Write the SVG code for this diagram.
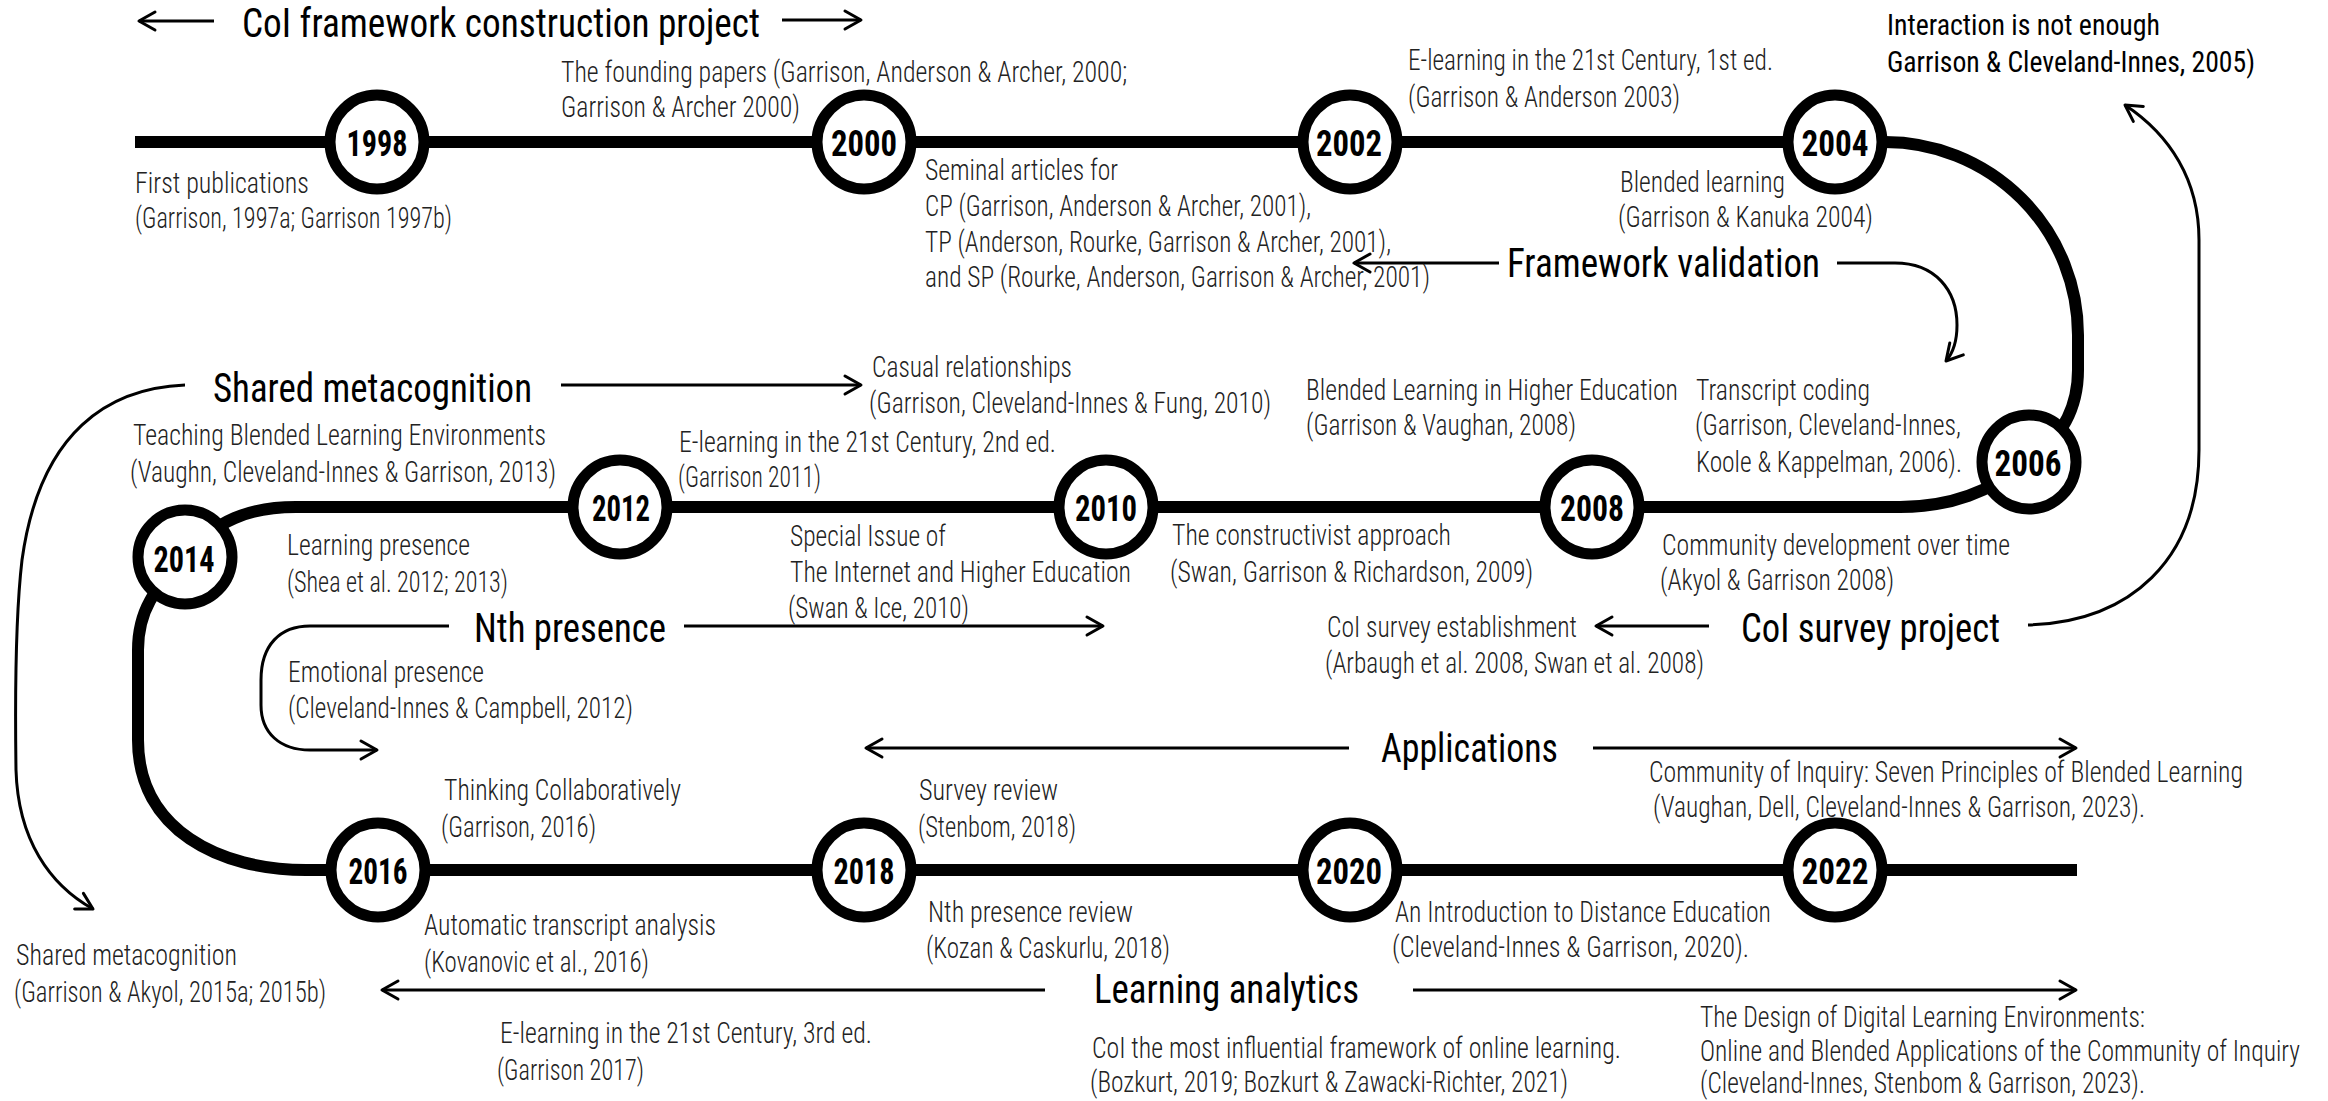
<svg xmlns="http://www.w3.org/2000/svg" width="2328" height="1101" viewBox="0 0 2328 1101">
  <defs>
    <style>
      .track { fill: none; stroke: #000; stroke-width: 12; }
      .conn { fill: none; stroke: #000; stroke-width: 3; }
      .yr circle { fill: #fff; stroke: #000; stroke-width: 11; }
      .yr text { font-family: "Roboto Condensed", "Roboto", "Liberation Sans", sans-serif; font-weight: 700; font-size: 37px; text-anchor: middle; fill: #000; }
      .note text { font-family: "Roboto Condensed", "Roboto", "Liberation Sans", sans-serif; font-weight: 300; font-size: 29px; fill: #222; }
      .note.strong text { font-weight: 400; fill: #000; }
      .topic text { font-family: "Roboto Condensed", "Roboto", "Liberation Sans", sans-serif; font-weight: 400; font-size: 40px; fill: #000; }
    </style>
    <marker id="arr" viewBox="-20 -12 24 24" refX="0" refY="0" markerWidth="24" markerHeight="24" markerUnits="userSpaceOnUse" orient="auto">
      <path d="M-16,-9 L0,0 L-16,9" fill="none" stroke="#000" stroke-width="3" stroke-linecap="round" stroke-linejoin="round"/>
    </marker>
  </defs>

  <rect width="2328" height="1101" fill="#fff"/>

  <!-- serpentine timeline track -->
  <g id="track">
    <path class="track" d="M135,142 H1885 A193,193 0 0 1 2078,335 V370 C2078,410 2060,440 2028,462 C1990,492 1950,507 1900,507 H296 C250,507 215,520 185,557 C160,585 138,605 138,650 V740 C138,830 220,870 306,870 H2077"/>
  </g>

  <!-- connectors -->
  <g id="connectors">
    <path class="conn" d="M214,21 H139" marker-end="url(#arr)"/>
    <path class="conn" d="M782,20 H861" marker-end="url(#arr)"/>
    <path class="conn" d="M1499,263 H1354" marker-end="url(#arr)"/>
    <path class="conn" d="M1837,263 H1895 C1935,263 1957,290 1957,325 C1957,343 1953,353 1946,361" marker-end="url(#arr)"/>
    <path class="conn" d="M2028,625 C2130,622 2199,560 2199,450 L2199,240 C2199,180 2170,135 2125,105" marker-end="url(#arr)"/>
    <path class="conn" d="M561,385 H861" marker-end="url(#arr)"/>
    <path class="conn" d="M185,385 C110,388 40,430 22,560 C15,620 15,700 16,770 C18,840 50,885 93,909" marker-end="url(#arr)"/>
    <path class="conn" d="M684,626 H1103" marker-end="url(#arr)"/>
    <path class="conn" d="M449,626 H310 C280,626 261,645 261,680 V705 C261,733 280,750 310,750 H377" marker-end="url(#arr)"/>
    <path class="conn" d="M1709,626 H1596" marker-end="url(#arr)"/>
    <path class="conn" d="M1349,748 H866" marker-end="url(#arr)"/>
    <path class="conn" d="M1593,748 H2076" marker-end="url(#arr)"/>
    <path class="conn" d="M1045,990 H382" marker-end="url(#arr)"/>
    <path class="conn" d="M1413,990 H2076" marker-end="url(#arr)"/>
  </g>

  <!-- year stations -->
  <g id="y1998" class="yr"><circle cx="377" cy="142" r="47"/><text x="377" y="156" textLength="61" lengthAdjust="spacingAndGlyphs">1998</text></g>
  <g id="y2000" class="yr"><circle cx="864" cy="142" r="47"/><text x="864" y="156" textLength="66" lengthAdjust="spacingAndGlyphs">2000</text></g>
  <g id="y2002" class="yr"><circle cx="1350" cy="142" r="47"/><text x="1349" y="156" textLength="66" lengthAdjust="spacingAndGlyphs">2002</text></g>
  <g id="y2004" class="yr"><circle cx="1835" cy="142" r="47"/><text x="1835" y="156" textLength="67" lengthAdjust="spacingAndGlyphs">2004</text></g>
  <g id="y2006" class="yr"><circle cx="2029" cy="462" r="47"/><text x="2028" y="476" textLength="67" lengthAdjust="spacingAndGlyphs">2006</text></g>
  <g id="y2008" class="yr"><circle cx="1592" cy="507" r="47"/><text x="1592" y="521" textLength="64" lengthAdjust="spacingAndGlyphs">2008</text></g>
  <g id="y2010" class="yr"><circle cx="1106" cy="507" r="47"/><text x="1106" y="521" textLength="62" lengthAdjust="spacingAndGlyphs">2010</text></g>
  <g id="y2012" class="yr"><circle cx="620" cy="507" r="47"/><text x="621" y="521" textLength="58" lengthAdjust="spacingAndGlyphs">2012</text></g>
  <g id="y2014" class="yr"><circle cx="185" cy="557" r="47"/><text x="184" y="572" textLength="61" lengthAdjust="spacingAndGlyphs">2014</text></g>
  <g id="y2016" class="yr"><circle cx="378" cy="870" r="47"/><text x="378" y="884" textLength="59" lengthAdjust="spacingAndGlyphs">2016</text></g>
  <g id="y2018" class="yr"><circle cx="864" cy="870" r="47"/><text x="864" y="884" textLength="61" lengthAdjust="spacingAndGlyphs">2018</text></g>
  <g id="y2020" class="yr"><circle cx="1350" cy="870" r="47"/><text x="1349" y="884" textLength="66" lengthAdjust="spacingAndGlyphs">2020</text></g>
  <g id="y2022" class="yr"><circle cx="1835" cy="870" r="47"/><text x="1835" y="884" textLength="67" lengthAdjust="spacingAndGlyphs">2022</text></g>

  <!-- strand headings -->
  <g id="t-construction" class="topic"><text x="242" y="37" textLength="518" lengthAdjust="spacingAndGlyphs">CoI framework construction project</text></g>
  <g id="t-validation" class="topic"><text x="1507" y="277" textLength="313" lengthAdjust="spacingAndGlyphs">Framework validation</text></g>
  <g id="t-metacognition" class="topic"><text x="213" y="402" textLength="319" lengthAdjust="spacingAndGlyphs">Shared metacognition</text></g>
  <g id="t-nth" class="topic"><text x="474" y="642" textLength="192" lengthAdjust="spacingAndGlyphs">Nth presence</text></g>
  <g id="t-survey" class="topic"><text x="1741" y="642" textLength="259" lengthAdjust="spacingAndGlyphs">CoI survey project</text></g>
  <g id="t-applications" class="topic"><text x="1381" y="762" textLength="177" lengthAdjust="spacingAndGlyphs">Applications</text></g>
  <g id="t-analytics" class="topic"><text x="1094" y="1003" textLength="265" lengthAdjust="spacingAndGlyphs">Learning analytics</text></g>

  <!-- publications -->
  <g id="n-first" class="note">
    <text x="135" y="193" textLength="174" lengthAdjust="spacingAndGlyphs">First publications</text>
    <text x="135" y="228" textLength="317" lengthAdjust="spacingAndGlyphs">(Garrison, 1997a; Garrison 1997b)</text>
  </g>
  <g id="n-founding" class="note">
    <text x="561" y="82" textLength="566" lengthAdjust="spacingAndGlyphs">The founding papers (Garrison, Anderson &amp; Archer, 2000;</text>
    <text x="561" y="117" textLength="239" lengthAdjust="spacingAndGlyphs">Garrison &amp; Archer 2000)</text>
  </g>
  <g id="n-seminal" class="note">
    <text x="925" y="180" textLength="193" lengthAdjust="spacingAndGlyphs">Seminal articles for</text>
    <text x="925" y="216" textLength="386" lengthAdjust="spacingAndGlyphs">CP (Garrison, Anderson &amp; Archer, 2001),</text>
    <text x="925" y="252" textLength="466" lengthAdjust="spacingAndGlyphs">TP (Anderson, Rourke, Garrison &amp; Archer, 2001),</text>
    <text x="925" y="287" textLength="505" lengthAdjust="spacingAndGlyphs">and SP (Rourke, Anderson, Garrison &amp; Archer, 2001)</text>
  </g>
  <g id="n-elearning1" class="note">
    <text x="1408" y="70" textLength="365" lengthAdjust="spacingAndGlyphs">E-learning in the 21st Century, 1st ed.</text>
    <text x="1408" y="107" textLength="272" lengthAdjust="spacingAndGlyphs">(Garrison &amp; Anderson 2003)</text>
  </g>
  <g id="n-interaction" class="note strong">
    <text x="1887" y="35" textLength="273" lengthAdjust="spacingAndGlyphs">Interaction is not enough</text>
    <text x="1887" y="72" textLength="368" lengthAdjust="spacingAndGlyphs">Garrison &amp; Cleveland-Innes, 2005)</text>
  </g>
  <g id="n-blended" class="note">
    <text x="1620" y="192" textLength="165" lengthAdjust="spacingAndGlyphs">Blended learning</text>
    <text x="1618" y="227" textLength="255" lengthAdjust="spacingAndGlyphs">(Garrison &amp; Kanuka 2004)</text>
  </g>
  <g id="n-causal" class="note">
    <text x="872" y="377" textLength="200" lengthAdjust="spacingAndGlyphs">Casual relationships</text>
    <text x="869" y="413" textLength="402" lengthAdjust="spacingAndGlyphs">(Garrison, Cleveland-Innes &amp; Fung, 2010)</text>
  </g>
  <g id="n-blended-he" class="note">
    <text x="1306" y="400" textLength="372" lengthAdjust="spacingAndGlyphs">Blended Learning in Higher Education</text>
    <text x="1306" y="435" textLength="270" lengthAdjust="spacingAndGlyphs">(Garrison &amp; Vaughan, 2008)</text>
  </g>
  <g id="n-transcript" class="note">
    <text x="1696" y="400" textLength="174" lengthAdjust="spacingAndGlyphs">Transcript coding</text>
    <text x="1695" y="435" textLength="266" lengthAdjust="spacingAndGlyphs">(Garrison, Cleveland-Innes,</text>
    <text x="1696" y="472" textLength="266" lengthAdjust="spacingAndGlyphs">Koole &amp; Kappelman, 2006).</text>
  </g>
  <g id="n-teaching" class="note">
    <text x="133" y="445" textLength="413" lengthAdjust="spacingAndGlyphs">Teaching Blended Learning Environments</text>
    <text x="130" y="482" textLength="426" lengthAdjust="spacingAndGlyphs">(Vaughn, Cleveland-Innes &amp; Garrison, 2013)</text>
  </g>
  <g id="n-elearning2" class="note">
    <text x="679" y="452" textLength="377" lengthAdjust="spacingAndGlyphs">E-learning in the 21st Century, 2nd ed.</text>
    <text x="678" y="487" textLength="143" lengthAdjust="spacingAndGlyphs">(Garrison 2011)</text>
  </g>
  <g id="n-learning-presence" class="note">
    <text x="287" y="555" textLength="183" lengthAdjust="spacingAndGlyphs">Learning presence</text>
    <text x="287" y="592" textLength="221" lengthAdjust="spacingAndGlyphs">(Shea et al. 2012; 2013)</text>
  </g>
  <g id="n-special-issue" class="note">
    <text x="790" y="546" textLength="156" lengthAdjust="spacingAndGlyphs">Special Issue of</text>
    <text x="790" y="582" textLength="341" lengthAdjust="spacingAndGlyphs">The Internet and Higher Education</text>
    <text x="788" y="618" textLength="181" lengthAdjust="spacingAndGlyphs">(Swan &amp; Ice, 2010)</text>
  </g>
  <g id="n-constructivist" class="note">
    <text x="1172" y="545" textLength="279" lengthAdjust="spacingAndGlyphs">The constructivist approach</text>
    <text x="1170" y="582" textLength="363" lengthAdjust="spacingAndGlyphs">(Swan, Garrison &amp; Richardson, 2009)</text>
  </g>
  <g id="n-community-dev" class="note">
    <text x="1662" y="555" textLength="348" lengthAdjust="spacingAndGlyphs">Community development over time</text>
    <text x="1660" y="590" textLength="234" lengthAdjust="spacingAndGlyphs">(Akyol &amp; Garrison 2008)</text>
  </g>
  <g id="n-emotional" class="note">
    <text x="288" y="682" textLength="196" lengthAdjust="spacingAndGlyphs">Emotional presence</text>
    <text x="288" y="718" textLength="345" lengthAdjust="spacingAndGlyphs">(Cleveland-Innes &amp; Campbell, 2012)</text>
  </g>
  <g id="n-survey-est" class="note">
    <text x="1327" y="637" textLength="250" lengthAdjust="spacingAndGlyphs">CoI survey establishment</text>
    <text x="1325" y="673" textLength="379" lengthAdjust="spacingAndGlyphs">(Arbaugh et al. 2008, Swan et al. 2008)</text>
  </g>
  <g id="n-seven-principles" class="note">
    <text x="1649" y="782" textLength="594" lengthAdjust="spacingAndGlyphs">Community of Inquiry: Seven Principles of Blended Learning</text>
    <text x="1653" y="817" textLength="492" lengthAdjust="spacingAndGlyphs">(Vaughan, Dell, Cleveland-Innes &amp; Garrison, 2023).</text>
  </g>
  <g id="n-thinking" class="note">
    <text x="444" y="800" textLength="237" lengthAdjust="spacingAndGlyphs">Thinking Collaboratively</text>
    <text x="441" y="837" textLength="155" lengthAdjust="spacingAndGlyphs">(Garrison, 2016)</text>
  </g>
  <g id="n-survey-review" class="note">
    <text x="919" y="800" textLength="139" lengthAdjust="spacingAndGlyphs">Survey review</text>
    <text x="918" y="837" textLength="158" lengthAdjust="spacingAndGlyphs">(Stenbom, 2018)</text>
  </g>
  <g id="n-auto-transcript" class="note">
    <text x="424" y="935" textLength="292" lengthAdjust="spacingAndGlyphs">Automatic transcript analysis</text>
    <text x="424" y="972" textLength="225" lengthAdjust="spacingAndGlyphs">(Kovanovic et al., 2016)</text>
  </g>
  <g id="n-nth-review" class="note">
    <text x="928" y="922" textLength="205" lengthAdjust="spacingAndGlyphs">Nth presence review</text>
    <text x="926" y="958" textLength="244" lengthAdjust="spacingAndGlyphs">(Kozan &amp; Caskurlu, 2018)</text>
  </g>
  <g id="n-intro-de" class="note">
    <text x="1395" y="922" textLength="376" lengthAdjust="spacingAndGlyphs">An Introduction to Distance Education</text>
    <text x="1392" y="957" textLength="357" lengthAdjust="spacingAndGlyphs">(Cleveland-Innes &amp; Garrison, 2020).</text>
  </g>
  <g id="n-shared-meta" class="note">
    <text x="16" y="965" textLength="221" lengthAdjust="spacingAndGlyphs">Shared metacognition</text>
    <text x="14" y="1002" textLength="312" lengthAdjust="spacingAndGlyphs">(Garrison &amp; Akyol, 2015a; 2015b)</text>
  </g>
  <g id="n-elearning3" class="note">
    <text x="500" y="1043" textLength="372" lengthAdjust="spacingAndGlyphs">E-learning in the 21st Century, 3rd ed.</text>
    <text x="497" y="1080" textLength="147" lengthAdjust="spacingAndGlyphs">(Garrison 2017)</text>
  </g>
  <g id="n-influential" class="note">
    <text x="1092" y="1058" textLength="529" lengthAdjust="spacingAndGlyphs">CoI the most influential framework of online learning.</text>
    <text x="1090" y="1092" textLength="478" lengthAdjust="spacingAndGlyphs">(Bozkurt, 2019; Bozkurt &amp; Zawacki-Richter, 2021)</text>
  </g>
  <g id="n-design" class="note">
    <text x="1700" y="1027" textLength="445" lengthAdjust="spacingAndGlyphs">The Design of Digital Learning Environments:</text>
    <text x="1700" y="1061" textLength="600" lengthAdjust="spacingAndGlyphs">Online and Blended Applications of the Community of Inquiry</text>
    <text x="1700" y="1093" textLength="445" lengthAdjust="spacingAndGlyphs">(Cleveland-Innes, Stenbom &amp; Garrison, 2023).</text>
  </g>
</svg>
